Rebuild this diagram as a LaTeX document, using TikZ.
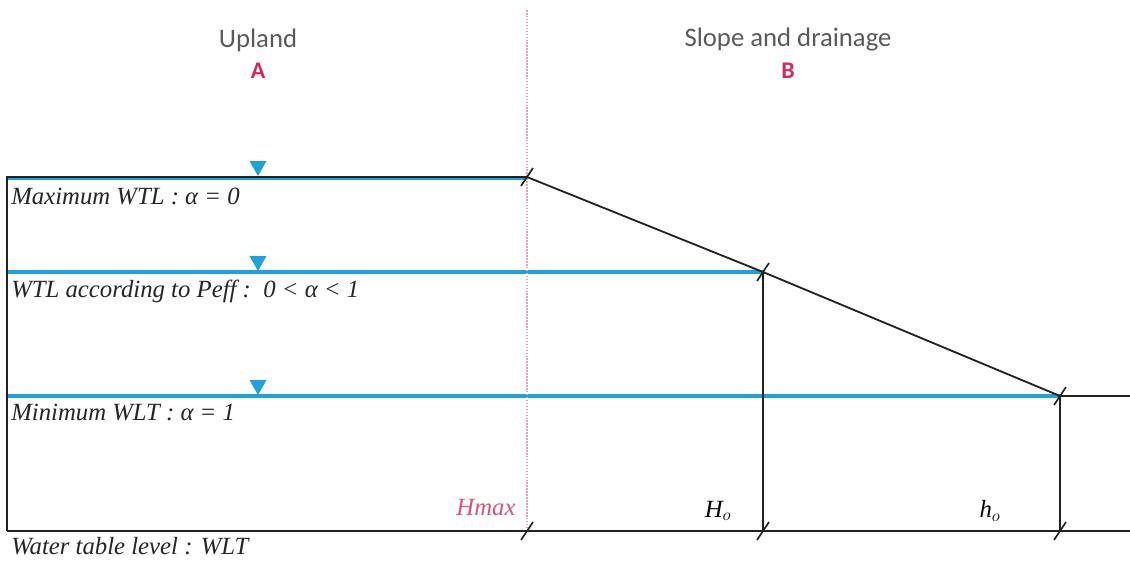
\documentclass[tikz,border=0pt]{standalone}
\usepackage{fontspec}
\setmainfont{Liberation Serif}
\newfontfamily\headfont{Carlito}
\usetikzlibrary{calc}
\definecolor{WtBlue}{HTML}{1DA2DC}
\definecolor{WtPink}{HTML}{E8A2BA}
\definecolor{WtRed}{HTML}{D4285A}
\definecolor{WtGray}{HTML}{5A5A5A}
\definecolor{WtLine}{HTML}{222222}
\tikzset{
  ground/.style={draw=WtLine,line width=1.3pt},
  water/.style={draw=WtBlue,line width=2.6pt},
  divide/.style={draw=WtPink,line width=1.1pt,densely dotted},
  zone/.style={font=\headfont\fontsize{19}{21}\selectfont,text=WtGray,inner sep=0pt},
  zoneletter/.style={font=\headfont\bfseries\fontsize{17}{19}\selectfont,text=WtRed,inner sep=0pt},
  level/.style={font=\itshape\fontsize{17.6}{19}\selectfont,text=black!85,anchor=west,inner sep=0pt},
  height/.style={font=\itshape\fontsize{17.6}{19}\selectfont,inner sep=0pt},
  notch/.pic={\draw[WtLine,line width=1.2pt] (-6,9) -- (6,-9);},
  marker/.pic={\fill[WtBlue] (-8.5,-15) -- (8.5,-15) -- (0,0) -- cycle;}
}

\begin{document}
\begin{tikzpicture}[x=0.025cm,y=-0.025cm]
  \useasboundingbox (0,0) rectangle (1130,560);
  % key points of the cross-section
  \coordinate (topL) at (7,177);
  \coordinate (crest) at (527,177);
  \coordinate (midS) at (763,272);
  \coordinate (toe) at (1060,396);
  \coordinate (endR) at (1130,396);
  \coordinate (baseL) at (7,531);
  \coordinate (baseA) at (527,531);
  \coordinate (baseH) at (763,531);
  \coordinate (baseh) at (1060,531);
  \coordinate (baseR) at (1130,531);
  \coordinate (divTop) at (527,10);
  % headings
  \node[zone] (upland) at (258,40) {Upland};
  \node[zoneletter] (zoneA) at (258,71) {A};
  \node[zone] (slope) at (788,40) {Slope and drainage};
  \node[zoneletter] (zoneB) at (788,71) {B};
  % water table levels
  \draw[water] ($(topL)+(0,1.5)$) -- ($(crest)+(0,1.5)$);
  \draw[water] (topL |- midS) -- (midS);
  \draw[water] (topL |- toe) -- (toe);
  % divide between A and B
  \draw[divide] (divTop) -- (baseA);
  % ground and base
  \draw[ground] (baseL) -- (topL) -- (crest) -- (midS) -- (toe) -- (endR);
  \draw[ground] (baseL) -- (baseR);
  \draw[ground] (midS) -- (baseH);
  \draw[ground] (toe) -- (baseh);
  \foreach \p in {crest,midS,toe,baseA,baseH,baseh}
    \pic at (\p) {notch};
  % level markers
  \pic at (258,176) {marker};
  \pic at (258,271) {marker};
  \pic at (258,395) {marker};
  % labels
  \node[level] (lmax) at (11,196) {Maximum WTL : α = 0};
  \node[level] (lpeff) at (11,291) {WTL according to Peff :\ \ 0 < α < 1};
  \node[level] (lmin) at (11,412) {Minimum WLT : α = 1};
  \node[level] (lwlt) at (11,546) {Water table level : WLT};
  \node[height,text=WtRed!80] (hmax) at (486,508) {Hmax};
  \node[height] (Ho) at (718,511) {H$_o$};
  \node[height] (ho) at (990,511) {h$_o$};
\end{tikzpicture}
\end{document}
